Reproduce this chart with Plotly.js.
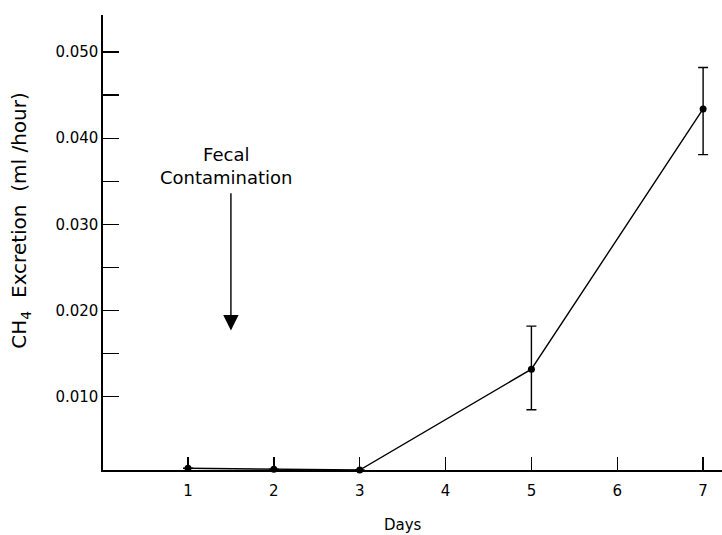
<!DOCTYPE html>
<html>
<head>
<meta charset="utf-8">
<script src="https://cdn.plot.ly/plotly-3.0.1.min.js"></script>
<style>
  html, body { margin: 0; padding: 0; background: #fff; }
  #chart { width: 722px; height: 535px; }
</style>
</head>
<body>
<div id="chart"></div>
<script>
// Methane excretion after fecal contamination
const days = [1, 2, 3, 5, 7];
const ch4 = [0.0017, 0.0016, 0.0015, 0.0132, 0.0434];
const errPlus = [0, 0, 0, 0.0050, 0.0048];
const errMinus = [0, 0, 0, 0.0047, 0.0053];

const xTicks = [1, 2, 3, 4, 5, 6, 7];
const xTickText = ['1', '2', '3', '4', '5', '6', '7'];
const yTicks = [0.010, 0.015, 0.020, 0.025, 0.030, 0.035, 0.040, 0.045, 0.050];
const yTickText = ['0.010', '', '0.020', '', '0.030', '', '0.040', '', '0.050'];

const FONT = 'DejaVu Sans, Verdana, sans-serif';

const trace = {
  x: days,
  y: ch4,
  type: 'scatter',
  mode: 'lines+markers',
  cliponaxis: false,
  line: { color: '#000', width: 1.4 },
  marker: { color: '#000', size: 7 },
  error_y: {
    type: 'data',
    symmetric: false,
    array: errPlus,
    arrayminus: errMinus,
    color: '#000',
    thickness: 1.4,
    width: 5
  },
  showlegend: false,
  hoverinfo: 'skip'
};

const layout = {
  width: 722,
  height: 535,
  margin: { l: 103, r: 0, t: 15, b: 65 },
  paper_bgcolor: '#fff',
  plot_bgcolor: '#fff',
  font: { family: FONT, size: 15, color: '#000' },
  xaxis: {
    range: [0.01, 7.22],
    tickvals: xTicks,
    ticktext: xTickText,
    ticks: 'inside',
    ticklen: 13,
    tickwidth: 1.4,
    tickcolor: '#000',
    ticklabelstandoff: 6,
    showline: true,
    linecolor: '#000',
    linewidth: 1.6,
    showgrid: false,
    zeroline: false,
    tickfont: { family: FONT, size: 15, color: '#000' }
  },
  yaxis: {
    range: [0.0015, 0.0543],
    tickvals: yTicks,
    ticktext: yTickText,
    ticks: 'inside',
    ticklen: 16,
    tickwidth: 1.4,
    tickcolor: '#000',
    showline: true,
    linecolor: '#000',
    linewidth: 1.6,
    showgrid: false,
    zeroline: false,
    tickfont: { family: FONT, size: 15, color: '#000' }
  },
  annotations: [
    {
      x: 1.5, y: 0.0177, xref: 'x', yref: 'y',
      ax: 1.5, ay: 0.0338, axref: 'x', ayref: 'y',
      showarrow: true, arrowhead: 2, arrowsize: 2.2, arrowwidth: 1.4,
      arrowcolor: '#000', text: ''
    },
    {
      x: 1.45, y: 0.0338, xref: 'x', yref: 'y',
      yanchor: 'bottom', xanchor: 'center', yshift: 2,
      showarrow: false,
      text: 'Fecal<br>Contamination',
      font: { family: FONT, size: 18, color: '#000' }
    },
    {
      x: 0, y: 0.548, xref: 'paper', yref: 'paper',
      xshift: -83, textangle: -90,
      xanchor: 'center', yanchor: 'middle',
      showarrow: false,
      text: 'CH<sub>4</sub>&nbsp;&nbsp;Excretion&nbsp;&nbsp;(ml&nbsp;/hour)',
      font: { family: FONT, size: 20, color: '#000' }
    },
    {
      x: 3.5, y: 0, xref: 'x', yref: 'paper',
      yshift: -55, yanchor: 'middle', xanchor: 'center',
      showarrow: false,
      text: 'Days',
      font: { family: FONT, size: 15, color: '#000' }
    }
  ]
};

Plotly.newPlot('chart', [trace], layout, { displayModeBar: false, staticPlot: true });
</script>
</body>
</html>
